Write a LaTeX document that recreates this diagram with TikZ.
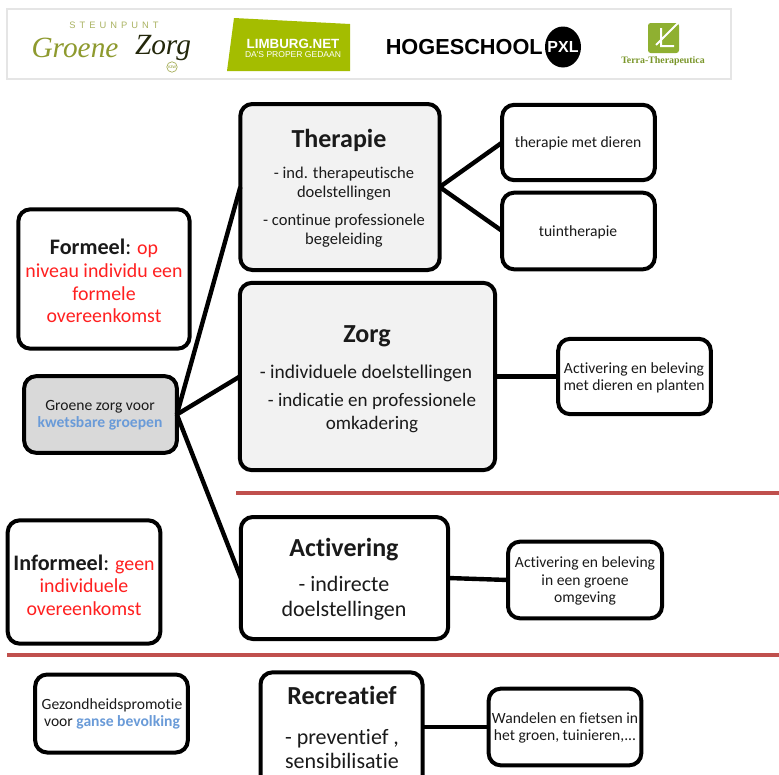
\documentclass[tikz,border=0pt]{standalone}
\usepackage{fontspec}
\setmainfont{Carlito}[RawFeature={-liga;-clig}]
\newfontfamily\logosans{Liberation Sans}
\newfontfamily\logoserif{Liberation Serif}
\definecolor{redline}{HTML}{C0504D}
\definecolor{bluetxt}{HTML}{6A9BD8}
\definecolor{redtxt}{HTML}{FF2020}
\definecolor{txt}{HTML}{1A1A1A}
\definecolor{limegreen}{HTML}{A4BD00}
\definecolor{olive}{HTML}{8E9A2E}
\definecolor{ttgreen}{HTML}{8FB031}
\newcommand{\lead}[1]{\textcolor{txt}{\fontsize{16.6}{17}\selectfont\textbf{#1}:}}
\begin{document}
\begin{tikzpicture}[x=0.75pt,y=-0.75pt,
  box/.style={draw=black,line width=3pt,rounded corners=9pt,fill=white,align=center,inner sep=1pt,text=txt,outer sep=0pt},
  softbox/.style={box,fill=black!5},
  greybox/.style={box,fill=black!15},
  link/.style={line width=3.3pt,draw=black},
  divider/.style={line width=2.6pt,draw=redline},
  label/.style={text=txt,align=center,inner sep=0pt},
  small/.style={label,font=\fontsize{11.7}{12.9}\selectfont},
  mid/.style={label,font=\fontsize{12.4}{14.2}\selectfont},
  big/.style={label,font=\fontsize{14.6}{16.8}\selectfont},
  large/.style={label,font=\fontsize{16.5}{18.5}\selectfont},
  head/.style={label,font=\fontsize{19.5}{22}\selectfont\bfseries}]
\useasboundingbox (0,0) rectangle (779,775);
% logo band
\draw[black!10,line width=0.8pt,fill=white] (7,9) rectangle (731,79);
\node[text=olive!75,font=\logosans\fontsize{7}{8}\selectfont,inner sep=0pt] (l1) at (114,25) {S\hspace{3pt}T\hspace{3pt}E\hspace{3pt}U\hspace{3pt}N\hspace{3pt}P\hspace{3pt}U\hspace{3pt}N\hspace{3pt}T};
\node[text=olive,font=\logoserif\itshape\fontsize{22}{23}\selectfont,inner sep=0pt] (l2) at (75,48) {Groene};
\node[text=black!75!olive,font=\logoserif\itshape\fontsize{22}{23}\selectfont,inner sep=0pt] (l3) at (163,48) {Zorg};
\node[draw=olive!80,line width=0.5pt,circle,inner sep=0.6pt,text=olive,font=\logosans\fontsize{3.5}{4}\selectfont] (l9) at (172,67) {vzw};
\fill[limegreen] (234,18) -- (350,24) -- (350,71) -- (227,71) -- cycle;
\node[text=white,font=\logosans\bfseries\fontsize{10}{11}\selectfont,inner sep=0pt] (l4) at (293,44) {LIMBURG.NET};
\node[text=white,font=\logosans\fontsize{6.4}{7}\selectfont,inner sep=0pt] (l5) at (293,55) {DA'S PROPER GEDAAN};
\node[text=black,font=\logosans\bfseries\fontsize{16.3}{17}\selectfont,anchor=east,inner sep=0pt] (l6) at (543,47) {HOGESCHOOL};
\fill[black] (563,47) ellipse (18 and 20.5);
\node[text=white,font=\logosans\bfseries\fontsize{12}{13}\selectfont,inner sep=0pt] (l7) at (563,47) {PXL};
\fill[ttgreen,rounded corners=2pt] (648,23) rectangle (679,53);
\draw[white,line width=1.5pt] (678,23) -- (656,45) (661,28) -- (661,46) -- (674,46);
\node[text=ttgreen!85!black,font=\logoserif\bfseries\fontsize{7.4}{8}\selectfont,inner sep=0pt] (l8) at (663,61) {Terra-Therapeutica};
% dividers
\coordinate (d1a) at (236,493); \coordinate (d1b) at (779,493);
\coordinate (d2a) at (7,655); \coordinate (d2b) at (779,655);
\draw[divider] (d1a) -- (d1b);
\draw[divider] (d2a) -- (d2b);
% main boxes
\node[softbox,minimum width=149.5pt,minimum height=124.5pt] (ther) at (340,187) {};
\node[softbox,minimum width=191.5pt,minimum height=140.5pt] (zorg) at (367.5,376.5) {};
\node[box,minimum width=155.5pt,minimum height=91.5pt] (act) at (344.5,578) {};
\node[box,minimum width=121.5pt,minimum height=100pt] (rec) at (341.5,739) {};
\node[box,minimum width=114.5pt,minimum height=56.5pt] (tdier) at (578.5,142.5) {};
\node[box,minimum width=114.5pt,minimum height=57.5pt] (ttuin) at (578.5,231) {};
\node[box,minimum width=114.5pt,minimum height=56.5pt] (azorg) at (634.5,376.5) {};
\node[box,minimum width=115.5pt,minimum height=57.5pt] (agroen) at (585,580) {};
\node[box,minimum width=114.5pt,minimum height=57.5pt] (wand) at (565,727) {};
\node[box,minimum width=128.5pt,minimum height=104.5pt] (form) at (104,279) {};
\node[greybox,minimum width=114.5pt,minimum height=57.5pt] (gz) at (100.5,414.5) {};
\node[box,minimum width=114.5pt,minimum height=92.5pt] (inf) at (84,582) {};
\node[box,minimum width=114.5pt,minimum height=58.5pt] (gez) at (111.5,713.5) {};
% connectors
\draw[link] (gz.east) -- (ther.west);
\draw[link] (gz.east) -- (zorg.west);
\draw[link] (gz.east) -- (act.west);
\draw[link] (ther.east) -- (tdier.west);
\draw[link] (ther.east) -- (ttuin.west);
\draw[link] (zorg.east) -- (azorg.west);
\draw[link] (act.east) -- (agroen.west);
\draw[link] (rec.east |- wand.west) -- (wand.west);
% texts
\node[head] (t1) at (339,140) {Therapie};
\node[mid] (t2) at (344,184) {- ind. therapeutische\\doelstellingen};
\node[mid] (t3) at (344,231) {- continue professionele\\begeleiding};
\node[head] (z1) at (367,336) {Zorg};
\node[big] (z2) at (366,373) {- individuele doelstellingen};
\node[big,font=\fontsize{14.3}{16.8}\selectfont] (z3) at (372,413) {- indicatie en professionele\\omkadering};
\node[head] (a1) at (344,550) {Activering};
\node[large] (a2) at (344,598) {- indirecte\\doelstellingen};
\node[head] (r1) at (342,695) {Recreatief};
\node[large] (r2) at (342,749) {- preventief ,\\sensibilisatie};
\node[small] (t4) at (578,143) {therapie met dieren};
\node[small] (t5) at (578,232) {tuintherapie};
\node[small] (t6) at (634,378) {Activering en beleving\\met dieren en planten};
\node[small] (t7) at (585,581) {Activering en beleving\\in een groene\\omgeving};
\node[small] (t8) at (565,728) {Wandelen en fietsen in\\het groen, tuinieren,...};
\node[big,text=redtxt,font=\fontsize{14.9}{17}\selectfont] (t9) at (104,281) {\lead{Formeel} op\\niveau individu een\\formele\\overeenkomst};
\node[small] (t10) at (100,415) {Groene zorg voor\\\textcolor{bluetxt}{\textbf{kwetsbare groepen}}};
\node[big,text=redtxt,font=\fontsize{14.9}{17}\selectfont] (t11) at (84,585) {\lead{Informeel} geen\\individuele\\overeenkomst};
\node[small] (t12) at (112,714) {Gezondheidspromotie\\voor \textcolor{bluetxt}{\textbf{ganse bevolking}}};
\end{tikzpicture}
\end{document}
